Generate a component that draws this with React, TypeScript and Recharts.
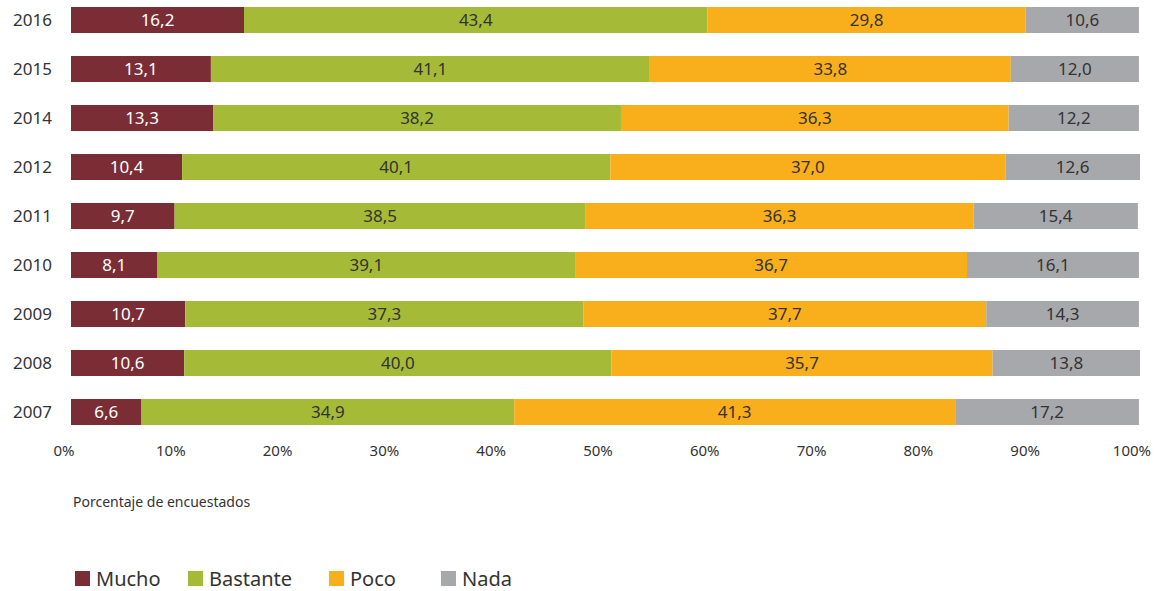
import { BarChart, Bar, XAxis, YAxis, LabelList } from "recharts";

const years = ["2016", "2015", "2014", "2012", "2011", "2010", "2009", "2008", "2007"];
const mucho = [16.2, 13.1, 13.3, 10.4, 9.7, 8.1, 10.7, 10.6, 6.6];
const bastante = [43.4, 41.1, 38.2, 40.1, 38.5, 39.1, 37.3, 40.0, 34.9];
const poco = [29.8, 33.8, 36.3, 37.0, 36.3, 36.7, 37.7, 35.7, 41.3];
const nada = [10.6, 12.0, 12.2, 12.6, 15.4, 16.1, 14.3, 13.8, 17.2];
const xTicks = [0, 10, 20, 30, 40, 50, 60, 70, 80, 90, 100];

const SERIES = [
  { key: "mucho", name: "Mucho", color: "#7b2d36", text: "#ffffff" },
  { key: "bastante", name: "Bastante", color: "#a5bb37", text: "#333333" },
  { key: "poco", name: "Poco", color: "#f9ae1b", text: "#333333" },
  { key: "nada", name: "Nada", color: "#a7a8ab", text: "#333333" },
];

const data = years.map((year, i) => ({
  year,
  mucho: mucho[i],
  bastante: bastante[i],
  poco: poco[i],
  nada: nada[i],
}));

const fmt = (v: any) => Number(v).toFixed(1).replace(".", ",");
const FONT = "'Noto Sans', 'Open Sans', sans-serif";

export default function App() {
  return (
    <div style={{ position: "absolute", left: 0, top: 0, width: 1156, height: 591, fontFamily: FONT, color: "#333" }}>
      <div style={{ position: "absolute", left: 0, top: -5 }}>
        <BarChart
          width={1156}
          height={470}
          data={data}
          layout="vertical"
          barSize={26}
          barCategoryGap={0}
          margin={{ top: 0, right: 16, bottom: 0, left: 0 }}
        >
          <XAxis
            type="number"
            domain={[0, 100]}
            ticks={xTicks}
            tickFormatter={(v) => `${v}%`}
            axisLine={false}
            tickLine={false}
            tickMargin={3}
            height={29}
            tick={{ fill: "#333", fontSize: 15, fontFamily: FONT, dx: -7 }}
            interval={0}
          />
          <YAxis
            type="category"
            dataKey="year"
            width={71}
            axisLine={false}
            tickLine={false}
            tickMargin={13}
            tick={{ fill: "#333", fontSize: 17, fontFamily: FONT }}
          />
          {SERIES.map((s) => (
            <Bar key={s.key} dataKey={s.key} name={s.name} stackId="a" fill={s.color} isAnimationActive={false}>
              <LabelList
                dataKey={s.key}
                position="center"
                formatter={fmt}
                fill={s.text}
                style={{ fontSize: 17, fontFamily: FONT }}
              />
            </Bar>
          ))}
        </BarChart>
      </div>
      <div style={{ position: "absolute", left: 73, top: 492, fontSize: 14 }}>Porcentaje de encuestados</div>
      <div style={{ position: "absolute", left: 75, top: 565, display: "flex", fontSize: 20 }}>
        {SERIES.map((s, i) => (
          <div key={s.key} style={{ display: "flex", alignItems: "center", width: [113, 141, 112, 100][i] }}>
            <span style={{ width: 15, height: 15, background: s.color, marginRight: 6, display: "inline-block" }} />
            <span>{s.name}</span>
          </div>
        ))}
      </div>
    </div>
  );
}
